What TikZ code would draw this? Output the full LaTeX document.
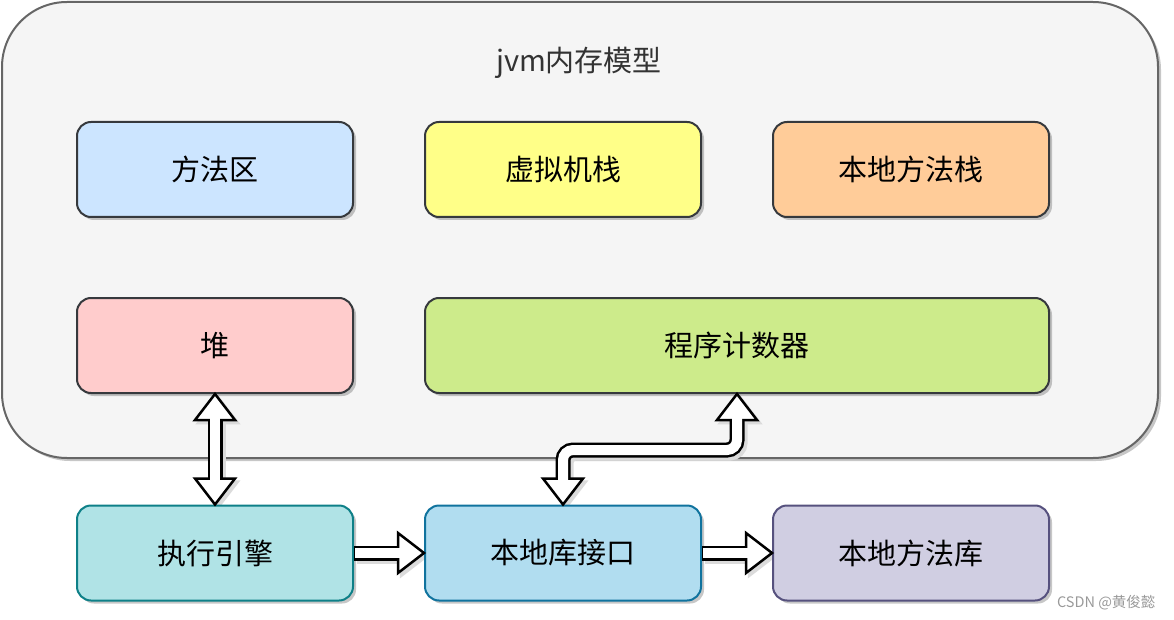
\documentclass[tikz,border=0pt]{standalone}
\usepackage{fontspec}
\setmainfont{Noto Sans CJK SC}
\usetikzlibrary{shadows,calc}
\definecolor{outerfill}{HTML}{F5F5F5}
\definecolor{outerdraw}{HTML}{666666}
\definecolor{dk}{HTML}{36393D}
\definecolor{cblue}{HTML}{CCE5FF}
\definecolor{cyellow}{HTML}{FFFF88}
\definecolor{corange}{HTML}{FFCC99}
\definecolor{cred}{HTML}{FFCCCC}
\definecolor{cgreen}{HTML}{CDEB8B}
\definecolor{cteal}{HTML}{B0E3E6}
\definecolor{cteald}{HTML}{0E8088}
\definecolor{csky}{HTML}{B1DDF0}
\definecolor{cskyd}{HTML}{10739E}
\definecolor{cpurp}{HTML}{D0CEE2}
\definecolor{cpurpd}{HTML}{56517E}
\definecolor{titlec}{HTML}{333333}
\definecolor{wmark}{HTML}{999999}
\pgfdeclarelayer{bg}
\pgfsetlayers{bg,main}
\newcommand\myarrows{%
  % heap <-> exec
  \draw[shaftb] ($(heap.south)+(0,24)$) -- ($(exec.north)+(0,-24)$);
  \filldraw[head] (heap.south) -- ++(20,26) -- ++(-40,0) -- cycle;
  \filldraw[head] (exec.north) -- ++(20,-26) -- ++(-40,0) -- cycle;
  \draw[shaftw] ($(heap.south)+(0,22)$) -- ($(exec.north)+(0,-22)$);
  % exec -> jni
  \draw[shaftb] (exec.east) -- ($(jni.west)+(-24,0)$);
  \filldraw[head] (jni.west) -- ++(-26,20) -- ++(0,-40) -- cycle;
  \draw[shaftw] ($(exec.east)+(1,0)$) -- ($(jni.west)+(-22,0)$);
  % jni -> lib
  \draw[shaftb] (jni.east) -- ($(lib.west)+(-24,0)$);
  \filldraw[head] (lib.west) -- ++(-26,20) -- ++(0,-40) -- cycle;
  \draw[shaftw] ($(jni.east)+(1,0)$) -- ($(lib.west)+(-22,0)$);
  % jni <-> pc (bent)
  \draw[shaftb] ($(jni.north)+(0,-24)$) -- (jni.north |- mid) -- (pc.south |- mid) -- ($(pc.south)+(0,24)$);
  \filldraw[head] (jni.north) -- ++(20,-26) -- ++(-40,0) -- cycle;
  \filldraw[head] (pc.south) -- ++(20,26) -- ++(-40,0) -- cycle;
  \draw[shaftw] ($(jni.north)+(0,-22)$) -- (jni.north |- mid) -- (pc.south |- mid) -- ($(pc.south)+(0,22)$);
}
\begin{document}
\begin{tikzpicture}[x=1pt,y=-1pt,
  box/.style={rectangle, rounded corners=14pt, line width=2pt, draw=dk,
    minimum width=276pt, minimum height=95pt, inner sep=0pt,
    font=\fontsize{29}{34}\selectfont,
    drop shadow={shadow xshift=3pt, shadow yshift=-3pt, fill=black, opacity=0.22}},
  container/.style={rectangle, rounded corners=65pt, line width=2pt, draw=outerdraw, fill=outerfill,
    minimum width=1156pt, minimum height=456pt, inner sep=0pt,
    drop shadow={shadow xshift=3pt, shadow yshift=-3pt, fill=black, opacity=0.22}},
  titlet/.style={font=\fontsize{29}{34}\selectfont, text=titlec},
  shaftb/.style={line width=15pt, draw=black, rounded corners=10pt},
  shaftw/.style={line width=10pt, draw=white, rounded corners=10pt},
  head/.style={fill=white, draw=black, line width=2.5pt}]
\useasboundingbox (0,0) rectangle (1174,620);
\begin{pgfonlayer}{bg}
  \node[container] (jvm) at (580,230) {};
\end{pgfonlayer}
\node[titlet] (title) at (579,63) {jvm内存模型};
\node[box, fill=cblue] (mfq) at (215,169.5) {方法区};
\node[box, fill=cyellow] (stack) at (563,169.5) {虚拟机栈};
\node[box, fill=corange] (nstack) at (911,169.5) {本地方法栈};
\node[box, fill=cred] (heap) at (215,345.5) {堆};
\node[box, fill=cgreen, minimum width=624pt] (pc) at (737,345.5) {程序计数器};
\node[box, fill=cteal, draw=cteald] (exec) at (215,553) {执行引擎};
\node[box, fill=csky, draw=cskyd] (jni) at (563,553) {本地库接口};
\node[box, fill=cpurp, draw=cpurpd] (lib) at (911,553) {本地方法库};
\coordinate (mid) at (0,450);
\begin{pgfonlayer}{bg}
  \begin{scope}[transform canvas={shift={(3pt,-3pt)}},
      shaftb/.style={line width=15pt, draw=black!14, rounded corners=10pt},
      shaftw/.style={draw=none},
      head/.style={fill=black!14, draw=black!14, line width=2.5pt}]
    \myarrows
  \end{scope}
\end{pgfonlayer}
\myarrows
\node[font=\fontsize{14.5}{17}\selectfont, text=wmark, anchor=east] (wm) at (1159,603) {CSDN @黄俊懿};
\end{tikzpicture}
\end{document}
